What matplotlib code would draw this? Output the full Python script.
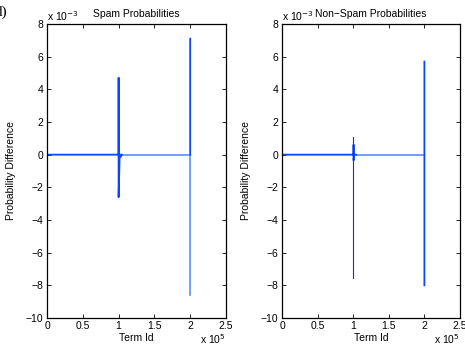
import numpy as np
import matplotlib
matplotlib.use("Agg")
import matplotlib.pyplot as plt

plt.rcParams['font.family'] = ['Liberation Sans', 'DejaVu Sans']

# values in units of 1e-3, term ids raw
spam_main_x = [0, 40000, 80000, 99500, 100000, 100000, 100000, 101500, 103000, 103000, 104500, np.nan, 200000, 200000]
spam_main_y = [0, 0, 0, 0, 0, 4.7, -2.6, 0, 0, -0.12, 0, np.nan, 0, 7.1]
spam_light_x = [104500, 150000, 199800, 200000, 200000]
spam_light_y = [0, 0, 0, 0, -8.6]

non_main_x = [0, 40000, 80000, 99500, 100500, 100500, 100500, 101500, 104000, np.nan, 200000, 200000]
non_main_y = [0, 0, 0, 0, 0, 0.6, -0.35, 0, 0, np.nan, 5.7, -8.0]
non_light_x = [104000, 150000, 199800]
non_light_y = [0, 0, 0]
non_dark_x = [100000, 100000]
non_dark_y = [1.1, -7.55]

xticks = [0, 50000, 100000, 150000, 200000, 250000]
xticklabels = ['0', '0.5', '1', '1.5', '2', '2.5']
yticks = [-10, -8, -6, -4, -2, 0, 2, 4, 6, 8]

MAIN = '#0a46ff'
LIGHT = '#5c8cff'
DARK = '#2b2f8c'

fig = plt.figure(figsize=(4.65, 3.45), dpi=100)
ax1 = fig.add_axes([47/465, 1-318/345, 179/465, 294/345])
ax2 = fig.add_axes([282/465, 1-318/345, 178/465, 294/345])

ax1.plot(spam_light_x, spam_light_y, color=LIGHT, lw=1.2)
ax1.plot(spam_main_x, spam_main_y, color=MAIN, lw=1.3)

ax2.plot(non_light_x, non_light_y, color=LIGHT, lw=1.2)
ax2.plot(non_main_x, non_main_y, color=MAIN, lw=1.3)
ax2.plot(non_dark_x, non_dark_y, color=DARK, lw=0.8)

for ax, title in [(ax1, 'Spam Probabilities'), (ax2, 'Non\u2212Spam Probabilities')]:
    ax.set_xlim(0, 250000)
    ax.set_ylim(-10, 8)
    ax.set_xticks(xticks)
    ax.set_xticklabels(xticklabels)
    ax.set_yticks(yticks)
    ax.set_yticklabels([str(t).replace('-', '\u2212') for t in yticks])
    ax.tick_params(direction='in', length=3, width=0.6, labelsize=7.5,
                   top=True, right=True, pad=2.5)
    for s in ax.spines.values():
        s.set_linewidth(0.9)
    ax.set_title(title, fontsize=7.5, pad=5)
    ax.set_xlabel('Term Id', fontsize=7.5, labelpad=1)
    ax.set_ylabel('Probability Difference', fontsize=7.5, labelpad=7)
    ax.text(0.0, 1.005, 'x 10$^{-3}$', transform=ax.transAxes, fontsize=7.5,
            ha='left', va='bottom')
    ax.text(1.0, -0.048, 'x 10$^{5}$', transform=ax.transAxes, fontsize=7.5,
            ha='right', va='top')

fig.text(-0.012, 0.985, 'd)', fontsize=11, ha='left', va='top', family='Liberation Serif')

fig.savefig('out.png', dpi=100)
